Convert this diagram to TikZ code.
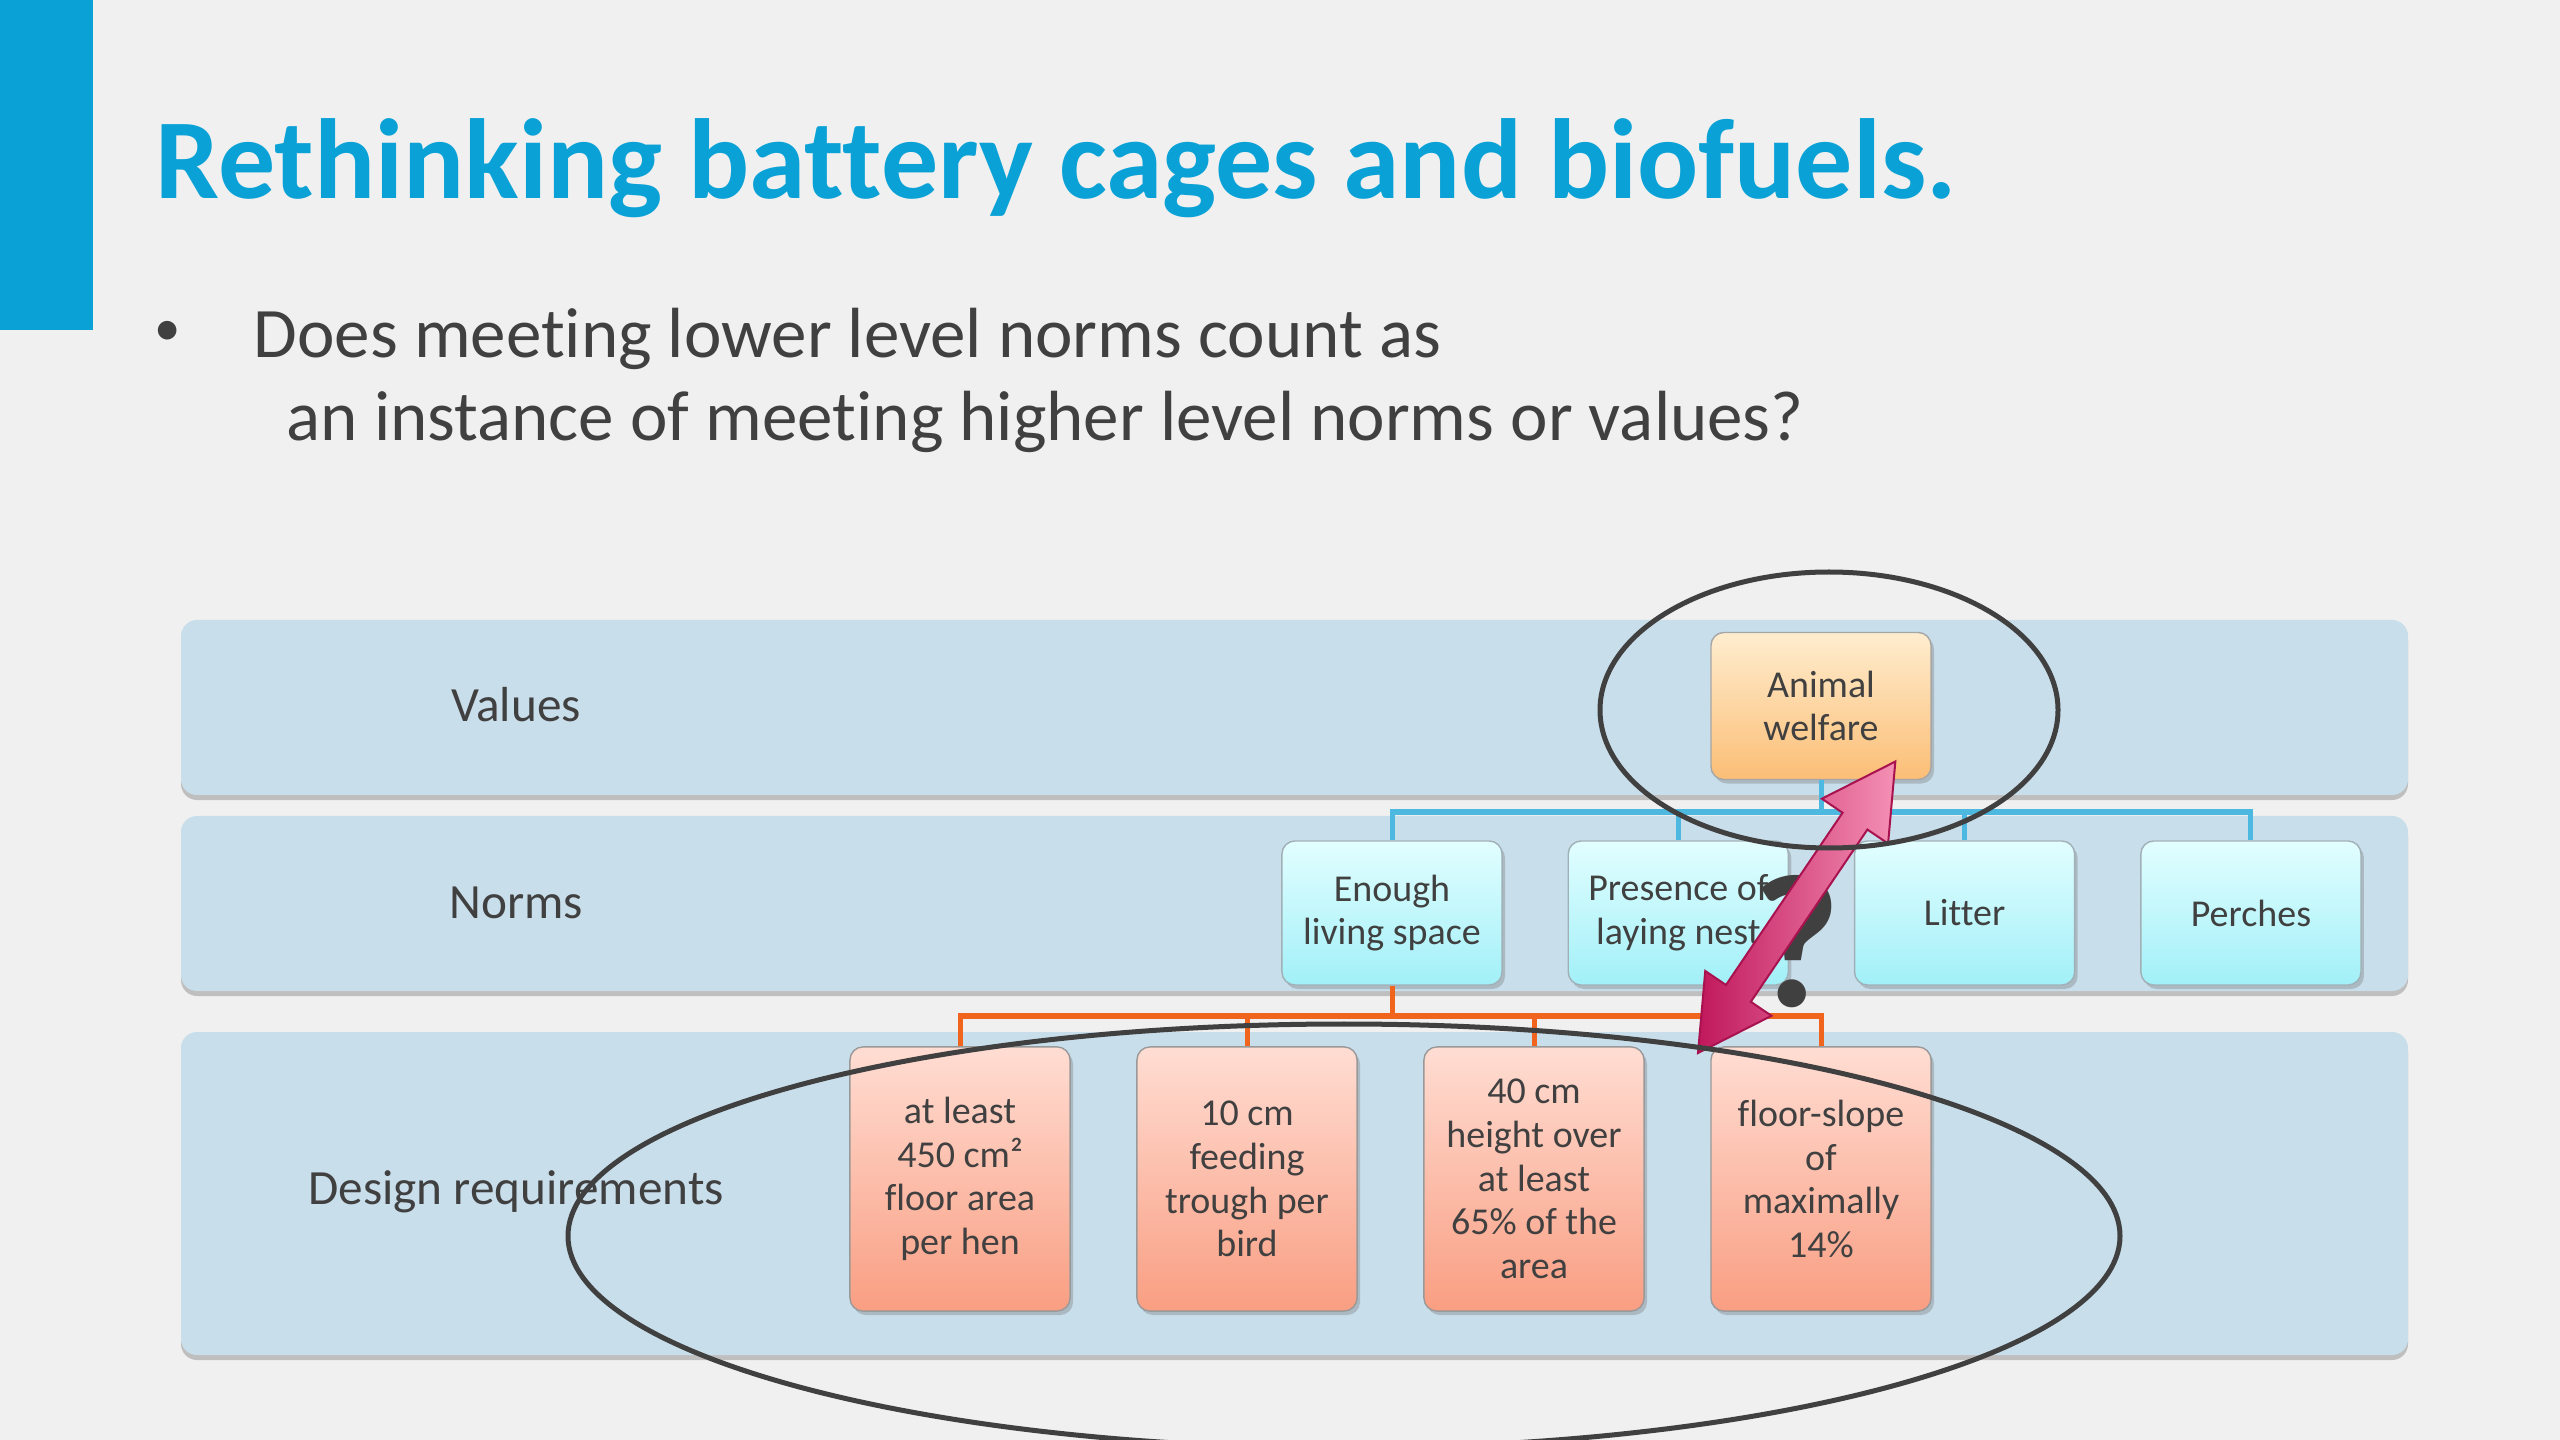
\documentclass[tikz,border=0pt]{standalone}
\usepackage{fontspec}
\setmainfont{Carlito}[Ligatures=NoCommon]
\usetikzlibrary{shadows}

\definecolor{slidebg}{HTML}{F0F0F0}
\definecolor{titleblue}{HTML}{0AA2D6}
\definecolor{inkgray}{HTML}{404040}
\definecolor{bandblue}{HTML}{C9DEEB}
\definecolor{normwire}{HTML}{4DB8E0}
\definecolor{reqwire}{HTML}{F0641E}
\definecolor{awtop}{HTML}{FFEDCF}
\definecolor{awbot}{HTML}{FBBE76}
\definecolor{normtop}{HTML}{E2FEFF}
\definecolor{normbot}{HTML}{A2F0F8}
\definecolor{reqtop}{HTML}{FFDDD3}
\definecolor{reqbot}{HTML}{F99E82}
\definecolor{qdark}{HTML}{C0185C}
\definecolor{qlight}{HTML}{F490B4}
\definecolor{qedge}{HTML}{A8124F}

\begin{document}
\begin{tikzpicture}[x=0.01cm,y=-0.01cm]
\tikzset{
  band/.style={fill=bandblue,rounded corners=0.16cm,
    drop shadow={shadow xshift=0pt,shadow yshift=-0.05cm,opacity=0.35,fill=black!60}},
  box/.style={draw=#1,rounded corners=0.13cm,minimum width=2.2cm,inner sep=0pt,
    align=center,text=inkgray,font=\fontsize{10.8}{12.4}\selectfont,
    drop shadow={shadow xshift=0.03cm,shadow yshift=-0.04cm,opacity=0.3,fill=black!60}},
  value/.style={box=black!35,minimum height=1.47cm,top color=awtop,bottom color=awbot},
  norm/.style={box=cyan!30!black!45,minimum height=1.44cm,top color=normtop,bottom color=normbot},
  req/.style={box=black!40,minimum height=2.64cm,top color=reqtop,bottom color=reqbot},
  tier/.style={text=inkgray,font=\fontsize{14}{16}\selectfont},
  asktext/.style={anchor=base west,inner sep=0pt,text=inkgray,font=\fontsize{20.2}{24}\selectfont},
  wire/.style={line width=0.05cm,draw=#1},
  ring/.style={line width=0.05cm,draw=inkgray},
}
% ---- slide ----
\fill[slidebg] (0,0) rectangle (2560,1440);
\useasboundingbox (0,0) rectangle (2560,1440);
\fill[titleblue] (0,0) rectangle (93,330);
\node[anchor=base west,inner sep=0pt,text=titleblue,font=\bfseries\fontsize{32.4}{38}\selectfont] (title) at (155,199) {Rethinking battery cages and biofuels.};
\node[anchor=base,inner sep=0pt,text=inkgray,font=\fontsize{15}{18}\selectfont] (dot) at (168,346) {•};
\node[asktext] (ask1) at (253,358) {Does meeting lower level norms count as};
\node[asktext] (ask2) at (286,441) {an instance of meeting higher level norms or values?};
% ---- three tiers ----
\path[band] (181,620) rectangle (2408,795);
\path[band] (181,816) rectangle (2408,991);
\path[band] (181,1032) rectangle (2408,1355);
\node[tier] (tv) at (516,705) {Values};
\node[tier] (tn) at (516,903) {Norms};
\node[tier] (td) at (516,1192) {Design requirements};
% ---- boxes ----
\node[value] (aw) at (1821,706) {Animal\\welfare};
\foreach \t [count=\i] in {{Enough\\living space},{Presence of\\laying nest},Litter,Perches}
  \node[norm] (n\i) at ({1392+286.3*(\i-1)},913) {\t};
\foreach \t [count=\i] in {{at least\\450 cm²\\floor area\\per hen},{10 cm\\feeding\\trough per\\bird},
    {40 cm\\height over\\at least\\65\% of the\\area},{floor-slope\\of\\maximally\\14\%}}
  \node[req] (d\i) at ({960+287*(\i-1)},1179) {\t};
% ---- wires ----
\coordinate (nbus) at (0,812);
\coordinate (dbus) at (0,1016);
\foreach \i in {1,...,4}{
  \draw[wire=normwire] (aw.south) |- (n\i.north |- nbus) -- (n\i.north);
  \draw[wire=reqwire] (n1.south) |- (d\i.north |- dbus) -- (d\i.north);
}
% ---- the question ----
\node[text=inkgray,font=\bfseries\fontsize{54}{54}\selectfont] (qm) at (1796,942) {?};
\begin{scope}[shift={(1698,1053)},rotate=55.9]
  \def\L{352}\def\h{72}\def\w{15}\def\W{40}
  \draw[qedge,line width=0.02cm,left color=qdark,right color=qlight]
    (0,0) -- (\h,\W) -- (\h,\w) -- (\L-\h,\w) -- (\L-\h,\W) -- (\L,0)
    -- (\L-\h,-\W) -- (\L-\h,-\w) -- (\h,-\w) -- (\h,-\W) -- cycle;
\end{scope}
% ---- rings ----
\draw[ring] (1829,710) ellipse [x radius=229,y radius=138];
\draw[ring] (1344,1236) ellipse [x radius=776,y radius=212];
\end{tikzpicture}
\end{document}
